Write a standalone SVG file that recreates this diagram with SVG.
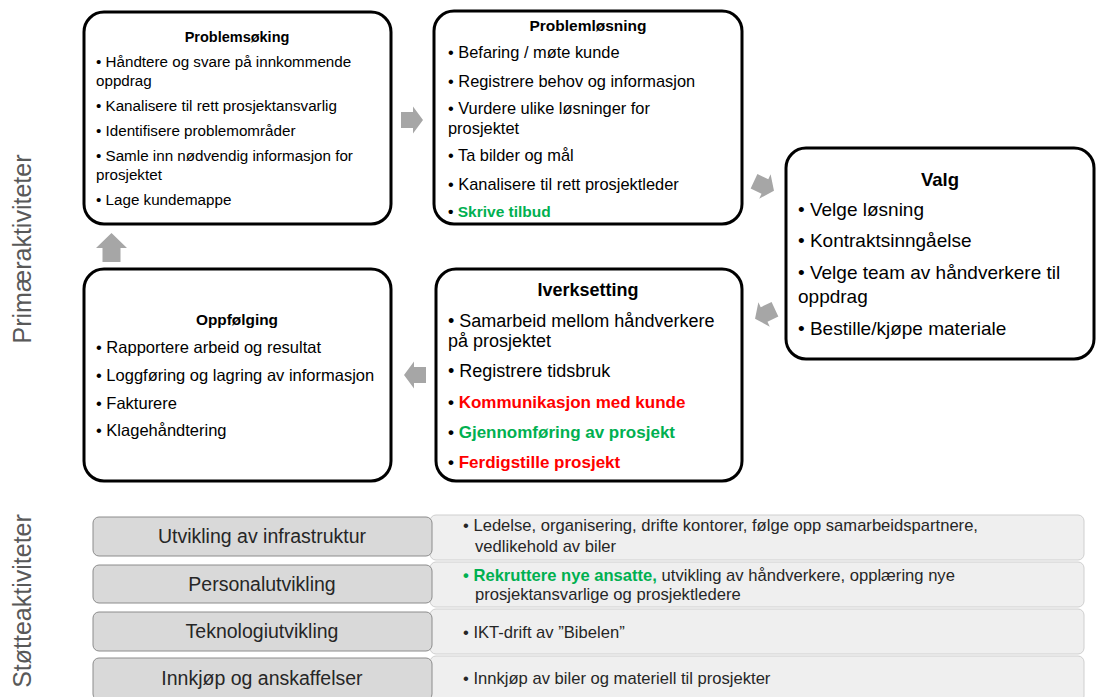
<svg xmlns="http://www.w3.org/2000/svg" xmlns:xlink="http://www.w3.org/1999/xlink" width="1099" height="697" viewBox="0 0 1099 697">
<style>
text{font-family:"Liberation Sans",Arial,sans-serif;fill:#000}
.box{fill:#fff;stroke:#000;stroke-width:3}
.t{font-weight:bold;text-anchor:middle}
.b{font-weight:bold}
.g{fill:#00b050}
.r{fill:#ff0000}
.arr{fill:#a6a6a6}
.side{font-size:25px;fill:#595959;text-anchor:middle}
.sl{fill:#d9d9d9;stroke:#8c8c8c;stroke-width:1}
.sr{fill:#efefef;stroke:#cfcfcf;stroke-width:1}
.slt{font-size:19.5px;fill:#262626;text-anchor:middle}
.srt{font-size:16.6px;fill:#262626}
</style>
<defs>
<polygon id="arrow" points="-11,-8 1,-8 1,-13.5 11,0 1,13.5 1,8 -11,8"/>
</defs>
<rect width="1099" height="697" fill="#fff"/>

<g id="labels">
<text class="side" transform="translate(31,249) rotate(-90)">Primæraktiviteter</text>
<text class="side" transform="translate(31,601) rotate(-90)">Støtteaktiviteter</text>
</g>

<g id="connectors" class="arr">
<use xlink:href="#arrow" transform="translate(412,120)"/>
<use xlink:href="#arrow" transform="translate(764,186) rotate(25)"/>
<use xlink:href="#arrow" transform="translate(765,314) rotate(155)"/>
<use xlink:href="#arrow" transform="translate(415,375) rotate(180)"/>
<polygon points="111.5,233 127,248 120.5,248 120.5,262 102.5,262 102.5,248 96,248"/>
</g>

<g id="problemsoking">
<rect class="box" x="84" y="12" width="307" height="212" rx="20"/>
<text class="t" x="237" y="42" font-size="14.5">Problemsøking</text>
<g font-size="15.2">
<text x="96" y="67">• Håndtere og svare på innkommende</text>
<text x="96" y="86">oppdrag</text>
<text x="96" y="111">• Kanalisere til rett prosjektansvarlig</text>
<text x="96" y="136">• Identifisere problemområder</text>
<text x="96" y="161">• Samle inn nødvendig informasjon for</text>
<text x="96" y="180">prosjektet</text>
<text x="96" y="205">• Lage kundemappe</text>
</g>
</g>

<g id="problemlosning">
<rect class="box" x="434" y="11" width="308" height="213" rx="20"/>
<text class="t" x="588" y="31" font-size="15.5">Problemløsning</text>
<g font-size="16.4">
<text x="448" y="58">• Befaring / møte kunde</text>
<text x="448" y="87">• Registrere behov og informasjon</text>
<text x="448" y="114">• Vurdere ulike løsninger for</text>
<text x="448" y="134">prosjektet</text>
<text x="448" y="161">• Ta bilder og mål</text>
<text x="448" y="190">• Kanalisere til rett prosjektleder</text>
<text x="448" y="217" class="b" font-size="15.5"><tspan>• </tspan><tspan class="g">Skrive tilbud</tspan></text>
</g>
</g>

<g id="valg">
<rect class="box" x="786" y="148" width="308" height="211" rx="20"/>
<text class="t" x="940" y="186" font-size="18.5">Valg</text>
<g font-size="19">
<text x="798" y="216">• Velge løsning</text>
<text x="798" y="247">• Kontraktsinngåelse</text>
<text x="798" y="279">• Velge team av håndverkere til</text>
<text x="798" y="303">oppdrag</text>
<text x="798" y="335">• Bestille/kjøpe materiale</text>
</g>
</g>

<g id="oppfolging">
<rect class="box" x="84" y="269" width="307" height="212" rx="20"/>
<text class="t" x="237" y="325" font-size="15.4">Oppfølging</text>
<g font-size="16.5">
<text x="96" y="353">• Rapportere arbeid og resultat</text>
<text x="96" y="381">• Loggføring og lagring av informasjon</text>
<text x="96" y="409">• Fakturere</text>
<text x="96" y="436">• Klagehåndtering</text>
</g>
</g>

<g id="iverksetting">
<rect class="box" x="436" y="269" width="306" height="212" rx="20"/>
<text class="t" x="588" y="296" font-size="18">Iverksetting</text>
<g font-size="18">
<text x="448" y="327">• Samarbeid mellom håndverkere</text>
<text x="448" y="347">på prosjektet</text>
<text x="448" y="377">• Registrere tidsbruk</text>
</g>
<g font-size="17" class="b">
<text x="448" y="408"><tspan>• </tspan><tspan class="r">Kommunikasjon med kunde</tspan></text>
<text x="448" y="438"><tspan>• </tspan><tspan class="g">Gjennomføring av prosjekt</tspan></text>
<text x="448" y="468"><tspan>• </tspan><tspan class="r">Ferdigstille prosjekt</tspan></text>
</g>
</g>

<g id="support-right">
<rect class="sr" x="430" y="515" width="654" height="45" rx="6"/>
<rect class="sr" x="430" y="562" width="654" height="45" rx="6"/>
<rect class="sr" x="430" y="609" width="654" height="45" rx="6"/>
<rect class="sr" x="430" y="656" width="654" height="46" rx="6"/>
<text class="srt" x="463" y="531">• Ledelse, organisering, drifte kontorer, følge opp samarbeidspartnere,</text>
<text class="srt" x="475" y="552">vedlikehold av biler</text>
<text class="srt" x="463" y="581"><tspan class="b g">• Rekruttere nye ansatte,</tspan> utvikling av håndverkere, opplæring nye</text>
<text class="srt" x="475" y="600">prosjektansvarlige og prosjektledere</text>
<text class="srt" x="463" y="638">• IKT-drift av ”Bibelen”</text>
<text class="srt" x="463" y="684">• Innkjøp av biler og materiell til prosjekter</text>
</g>

<g id="infrastruktur">
<rect class="sl" x="93" y="517" width="339" height="39" rx="6"/>
<text class="slt" x="262" y="543">Utvikling av infrastruktur</text>
</g>
<g id="personalutvikling">
<rect class="sl" x="93" y="565" width="339" height="38" rx="6"/>
<text class="slt" x="262" y="591">Personalutvikling</text>
</g>
<g id="teknologiutvikling">
<rect class="sl" x="93" y="612" width="339" height="39" rx="6"/>
<text class="slt" x="262" y="638">Teknologiutvikling</text>
</g>
<g id="innkjop">
<rect class="sl" x="93" y="658" width="339" height="42" rx="6"/>
<text class="slt" x="262" y="685">Innkjøp og anskaffelser</text>
</g>
</svg>
